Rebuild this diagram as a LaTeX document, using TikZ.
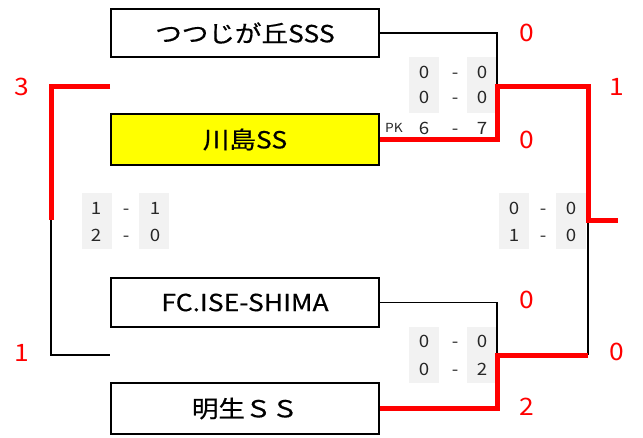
\documentclass[tikz,border=0pt]{standalone}
\usepackage{fontspec}
\setmainfont{Noto Sans CJK JP}
\newfontfamily\teamfont[FakeStretch=1.13,FakeBold=0.5]{Noto Sans CJK JP}
\newfontfamily\digitfont[FakeStretch=1.1]{Noto Sans CJK JP}
\definecolor{scoregray}{RGB}{242,242,242}
\definecolor{scoretext}{RGB}{40,40,40}
\definecolor{winred}{RGB}{255,0,0}
\definecolor{teamyellow}{RGB}{255,255,0}
\tikzset{
  team/.style={draw=black, line width=2pt, minimum width=268pt, inner sep=0pt, font=\teamfont\fontsize{23.5}{23.5}\selectfont, text=black},
  sbox/.style={fill=scoregray, draw=none, minimum width=30pt, minimum height=56pt, inner sep=0pt},
  sc/.style={font=\digitfont\fontsize{17}{17}\selectfont, text=scoretext, inner sep=0pt, text height=12pt, text depth=0pt},
  res/.style={font=\digitfont\fontsize{24}{24}\selectfont, text=winred, inner sep=0pt},
  loser/.style={draw=black, line width=1.5pt},
  winner/.style={draw=winred, line width=5pt, line join=miter},
}
\begin{document}
\begin{tikzpicture}[x=1pt,y=-1pt]
\useasboundingbox (0,0) rectangle (643,437);
% score backgrounds
\node[sbox] (g1a) at (424,85) {};
\node[sbox] (g1b) at (482,85) {};
\node[sbox] (g2a) at (96.5,221) {};
\node[sbox] (g2b) at (154,221) {};
\node[sbox] (g3a) at (514,221) {};
\node[sbox] (g3b) at (571,221) {};
\node[sbox] (g4a) at (424,354.5) {};
\node[sbox] (g4b) at (482,354.5) {};
% teams
\node[team] (t1) at (245,33) [minimum height=48pt] {つつじが丘SSS};
\node[team, fill=teamyellow] (t2) at (245,139.5) [minimum height=51pt] {川島SS};
\node[team] (t3) at (245,302.5) [minimum height=49pt] {FC.ISE-SHIMA};
\node[team] (t4) at (245,408.5) [minimum height=51pt] {明生ＳＳ};
% bracket coordinates
\coordinate (a1) at (497,33);
\coordinate (a2) at (497,86);
\coordinate (a3) at (497,139.5);
\coordinate (f1) at (588,86);
\coordinate (f2) at (588,220);
\coordinate (fw) at (618,220);
\coordinate (f3) at (588,355);
\coordinate (b1) at (497,302.5);
\coordinate (b2) at (497,355);
\coordinate (b3) at (497,408.5);
\coordinate (l1) at (110,86);
\coordinate (l2) at (51,86);
\coordinate (l3) at (51,220);
\coordinate (l4) at (51,355);
\coordinate (l5) at (110,355);
% connectors
\draw[loser] (t1.east |- a1) -- (a1) -- (a2);
\draw[loser] (t3.east |- b1) -- (b1) -- (b2);
\draw[loser] (f2) -- (f3);
\draw[loser] (l3) -- (l4) -- (l5);
\draw[winner] (t2.east |- a3) -- (a3) -- (a2) -- (f1) -- (f2) -- (fw);
\draw[winner] (t4.east |- b3) -- (b3) -- (b2) -- (f3);
\draw[winner] (l1) -- (l2) -- (l3);
% scores top
\node[sc] (s1a) at (424,72) {0};
\node[sc] (s1d) at (455,72) {-};
\node[sc] (s1b) at (482,72) {0};
\node[sc] (s2a) at (424,97) {0};
\node[sc] (s2d) at (455,97) {-};
\node[sc] (s2b) at (482,97) {0};
\node[sc, font=\digitfont\fontsize{12.5}{12.5}\selectfont, text height=9pt] (pk) at (394,128) {PK};
\node[sc] (s3a) at (424,128) {6};
\node[sc] (s3d) at (455,128) {-};
\node[sc] (s3b) at (482,128) {7};
% scores left
\node[sc] (m1a) at (96,208) {1};
\node[sc] (m1d) at (126,208) {-};
\node[sc] (m1b) at (155,208) {1};
\node[sc] (m2a) at (96,235) {2};
\node[sc] (m2d) at (126,235) {-};
\node[sc] (m2b) at (155,235) {0};
% scores right
\node[sc] (n1a) at (514,208) {0};
\node[sc] (n1d) at (543,208) {-};
\node[sc] (n1b) at (571,208) {0};
\node[sc] (n2a) at (514,235) {1};
\node[sc] (n2d) at (543,235) {-};
\node[sc] (n2b) at (571,235) {0};
% scores bottom
\node[sc] (p1a) at (424,341) {0};
\node[sc] (p1d) at (455,341) {-};
\node[sc] (p1b) at (482,341) {0};
\node[sc] (p2a) at (424,369) {0};
\node[sc] (p2d) at (455,369) {-};
\node[sc] (p2b) at (482,369) {2};
% results
\node[res] (r1) at (527,33) {0};
\node[res] (r2) at (527,140) {0};
\node[res] (r3) at (617,87) {1};
\node[res] (r4) at (527,300) {0};
\node[res] (r5) at (527,407) {2};
\node[res] (r6) at (617,352) {0};
\node[res] (r7) at (22,87) {3};
\node[res] (r8) at (22,353) {1};
\end{tikzpicture}
\end{document}
